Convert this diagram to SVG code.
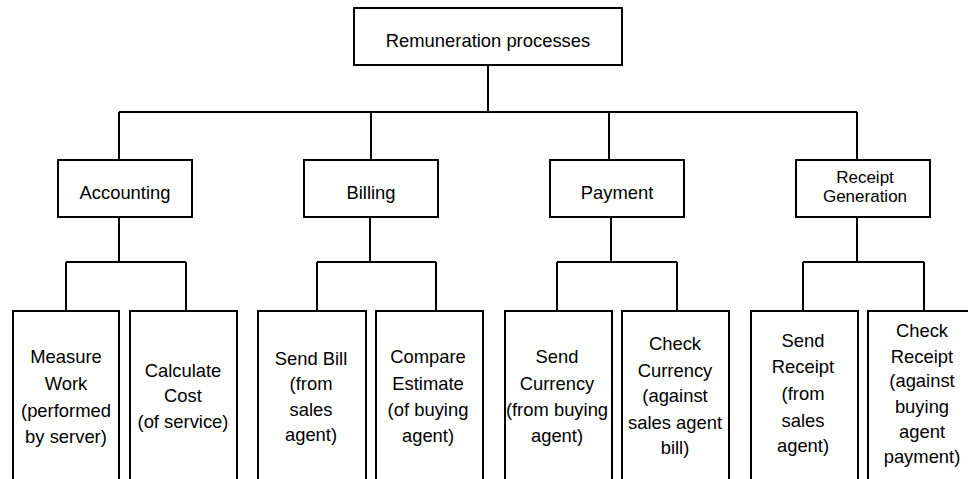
<svg xmlns="http://www.w3.org/2000/svg" width="968" height="479" viewBox="0 0 968 479">
  <style>
    .box { fill: #fff; stroke: #000; stroke-width: 2; }
    .wire { fill: none; stroke: #000; stroke-width: 2; }
    text { font-family: "Liberation Sans", Arial, sans-serif; font-size: 18.4px; fill: #000; text-anchor: middle; }
    .sm { font-size: 17px; }
  </style>
  <rect width="968" height="479" fill="#fff"/>

  <g id="connectors">
    <!-- root to second level -->
    <path class="wire" d="M488 65 V112 M119 112 H857 M119 112 V160 M371 112 V160 M609 112 V160 M857 112 V160"/>
    <!-- second level to leaves -->
    <path class="wire" d="M119 217 V262 M66 262 H186 M66 262 V311 M186 262 V311"/>
    <path class="wire" d="M370 217 V262 M317 262 H436 M317 262 V311 M436 262 V311"/>
    <path class="wire" d="M611 217 V262 M557 262 H677 M557 262 V311 M677 262 V311"/>
    <path class="wire" d="M857 217 V262 M803 262 H924 M803 262 V311 M924 262 V311"/>
  </g>

  <g id="root">
    <rect class="box" x="354" y="8" width="268" height="57"/>
    <text x="488" y="47">Remuneration processes</text>
  </g>

  <g id="accounting">
    <rect class="box" x="58" y="160" width="134" height="57"/>
    <text x="125" y="199">Accounting</text>
  </g>
  <g id="billing">
    <rect class="box" x="304" y="160" width="134" height="57"/>
    <text x="371" y="199">Billing</text>
  </g>
  <g id="payment">
    <rect class="box" x="550" y="160" width="134" height="57"/>
    <text x="617" y="199">Payment</text>
  </g>
  <g id="receipt-generation">
    <rect class="box" x="796" y="160" width="134" height="57"/>
    <text class="sm" x="865" y="183">Receipt</text>
    <text class="sm" x="865" y="202">Generation</text>
  </g>

  <g id="measure-work">
    <rect class="box" x="13" y="311" width="106" height="180"/>
    <text x="66" y="363">Measure</text>
    <text x="66" y="390">Work</text>
    <text x="66" y="417">(performed</text>
    <text x="66" y="443">by server)</text>
  </g>
  <g id="calculate-cost">
    <rect class="box" x="130" y="311" width="107" height="180"/>
    <text x="183" y="377">Calculate</text>
    <text x="183" y="402">Cost</text>
    <text x="183" y="428">(of service)</text>
  </g>
  <g id="send-bill">
    <rect class="box" x="258" y="311" width="108" height="180"/>
    <text x="311" y="365">Send Bill</text>
    <text x="311" y="390">(from</text>
    <text x="311" y="416">sales</text>
    <text x="311" y="441">agent)</text>
  </g>
  <g id="compare-estimate">
    <rect class="box" x="376" y="311" width="107" height="180"/>
    <text x="428" y="363">Compare</text>
    <text x="428" y="390">Estimate</text>
    <text x="428" y="416">(of buying</text>
    <text x="428" y="442">agent)</text>
  </g>
  <g id="send-currency">
    <rect class="box" x="505" y="311" width="107" height="180"/>
    <text x="557" y="363">Send</text>
    <text x="557" y="390">Currency</text>
    <text x="557" y="416">(from buying</text>
    <text x="557" y="442">agent)</text>
  </g>
  <g id="check-currency">
    <rect class="box" x="622" y="311" width="107" height="180"/>
    <text x="675" y="350">Check</text>
    <text x="675" y="377">Currency</text>
    <text x="675" y="402">(against</text>
    <text x="675" y="429">sales agent</text>
    <text x="675" y="454">bill)</text>
  </g>
  <g id="send-receipt">
    <rect class="box" x="751" y="311" width="107" height="180"/>
    <text x="803" y="347">Send</text>
    <text x="803" y="373">Receipt</text>
    <text x="803" y="400">(from</text>
    <text x="803" y="427">sales</text>
    <text x="803" y="452">agent)</text>
  </g>
  <g id="check-receipt">
    <rect class="box" x="868" y="311" width="108" height="180"/>
    <text x="922" y="337">Check</text>
    <text x="922" y="363">Receipt</text>
    <text x="922" y="387">(against</text>
    <text x="922" y="413">buying</text>
    <text x="922" y="438">agent</text>
    <text x="922" y="463">payment)</text>
  </g>
</svg>
